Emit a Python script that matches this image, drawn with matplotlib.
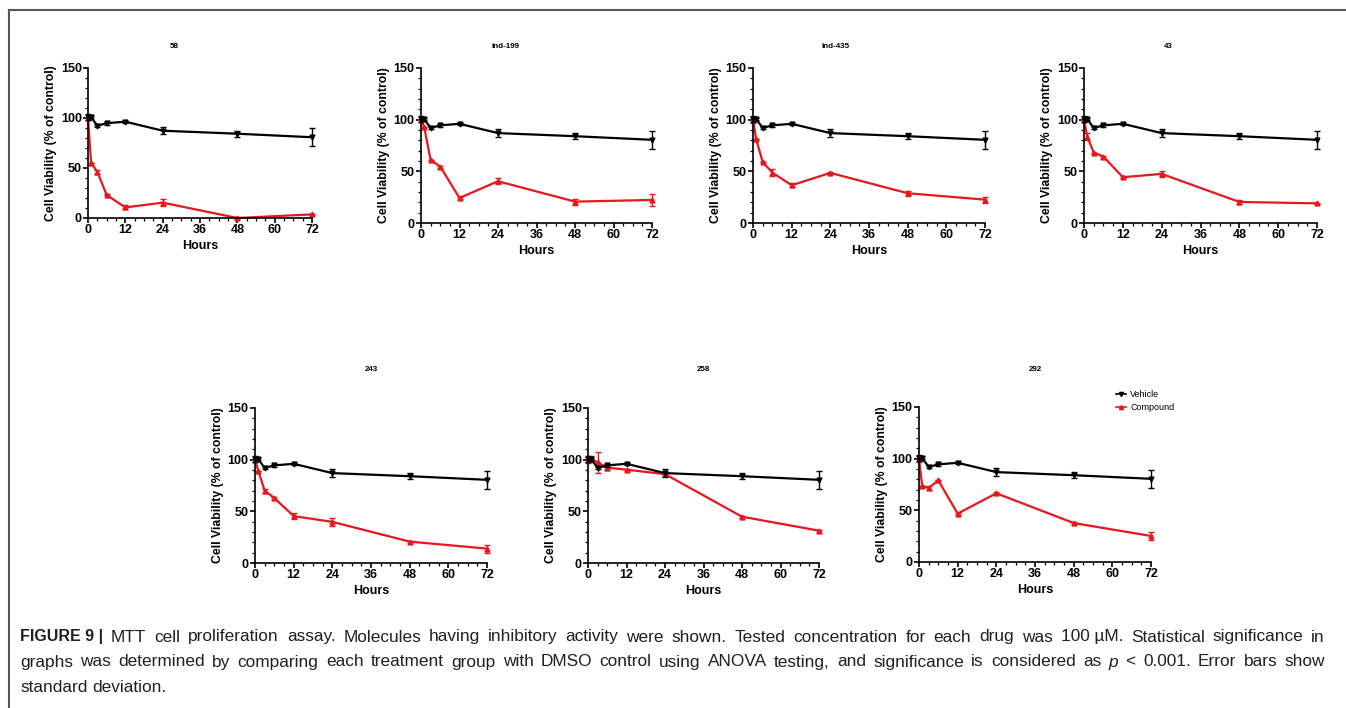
import numpy as np
import matplotlib.pyplot as plt
from matplotlib.lines import Line2D
from matplotlib.ticker import MultipleLocator

plt.rcParams['font.family'] = ['Liberation Sans', 'DejaVu Sans']
plt.rcParams['font.weight'] = 'bold'
plt.rcParams['axes.labelweight'] = 'bold'

# Data
hours = [0, 1, 3, 6, 12, 24, 48, 72]
vehicle = [100.5, 100.5, 92, 94.5, 96, 87, 84, 80.5]
vehicle_sd = [3, 1, 1, 1.5, 1, 3.5, 3, 9]

titles = ["58", "ind-199", "ind-435", "43", "243", "258", "292"]
compound = {
    "58":      [100, 55, 46, 23, 10.5, 15.3, 0, 3.6],
    "ind-199": [100, 92.8, 61, 54.6, 24.2, 40.4, 20.7, 22.3],
    "ind-435": [100, 81, 59, 48.8, 36.5, 48.5, 28.8, 22.6],
    "43":      [100, 83.7, 68.2, 64.3, 44.3, 47.5, 20.4, 19],
    "243":     [100, 89.4, 70, 62.8, 45.4, 39.8, 20.7, 13.9],
    "258":     [99.4, 100.6, 97.4, 92.3, 90.3, 86, 44.8, 31.3],
    "292":     [100, 73.5, 71.6, 79, 46.8, 66.5, 37.7, 25.2],
}
compound_sd = {
    "58":      [0, 0, 2, 0.5, 2, 3.5, 0.5, 0.5],
    "ind-199": [0, 0, 0, 1, 1, 3, 3, 6],
    "ind-435": [3, 0, 0, 3, 2, 0.5, 2.5, 3],
    "43":      [0, 3, 0, 1, 1, 3, 2, 0.5],
    "243":     [0, 0, 2, 1, 3, 4, 1, 4],
    "258":     [3, 3, 10.5, 2, 1, 1, 1, 1],
    "292":     [3, 0, 1.5, 0, 1, 1, 1, 4],
}

W, H = 1346, 708
# panel boxes in pixels: left, right, top, bottom ; title position
boxes = [
    (88, 312, 67.5, 218, 174, 46),
    (421, 652, 68, 223, 505, 46),
    (753, 985, 68, 223, 836, 46),
    (1084, 1317, 68, 223, 1168, 46),
    (255, 487, 408, 563, 371, 369),
    (588, 819, 408, 563, 703, 369),
    (919, 1151, 407, 562, 1035, 369),
]

fig = plt.figure(figsize=(W / 100, H / 100), dpi=100)

red = '#e8161d'
for name, (l, r, t, b, tx, ty) in zip(titles, boxes):
    ax = fig.add_axes([l / W, 1 - b / H, (r - l) / W, (b - t) / H])
    ax.errorbar(hours, vehicle, yerr=vehicle_sd, color='black', marker='v', ms=3.5,
                lw=1.6, capsize=2.5, elinewidth=1, capthick=1, clip_on=False, zorder=3)
    ax.errorbar(hours, compound[name], yerr=compound_sd[name], color=red, marker='^', ms=3.5,
                lw=1.6, capsize=2.5, elinewidth=1, capthick=1, clip_on=False, zorder=2)
    ax.set_xlim(0, 72)
    ax.set_ylim(0, 150)
    ax.xaxis.set_major_locator(MultipleLocator(12))
    ax.xaxis.set_minor_locator(MultipleLocator(3))
    ax.yaxis.set_major_locator(MultipleLocator(50))
    ax.yaxis.set_minor_locator(MultipleLocator(10))
    for s in ['top', 'right']:
        ax.spines[s].set_visible(False)
    for s in ['left', 'bottom']:
        ax.spines[s].set_linewidth(1.2)
    ax.tick_params(which='major', length=3.5, width=1.2, labelsize=9, pad=1)
    ax.tick_params(which='minor', length=2, width=0.9)
    for lbl in ax.get_xticklabels() + ax.get_yticklabels():
        lbl.set_fontweight('bold')
    ax.set_xlabel('Hours', fontsize=9, fontweight='bold', labelpad=3)
    ax.set_ylabel('Cell Viability (% of control)', fontsize=8.8, fontweight='bold', labelpad=3)
    fig.text(tx / W, 1 - ty / H, name, fontsize=5.8, fontweight='bold', ha='center', va='center')
    if name == "292":
        handles = [Line2D([], [], color='black', marker='v', ms=3, lw=1.2),
                   Line2D([], [], color=red, marker='^', ms=3, lw=1.2)]
        fig.legend(handles, ['Vehicle', 'Compound'], loc='upper left',
                   bbox_to_anchor=(1116 / W, 1 - 390 / H), frameon=False,
                   prop={'size': 6.5, 'weight': 'normal'}, handlelength=1.1,
                   handletextpad=0.5, labelspacing=0.45, borderaxespad=0, borderpad=0)

# frame lines
fig.add_artist(Line2D([9 / W, 1], [1 - 10 / H, 1 - 10 / H], color='#555555', lw=1.5))
fig.add_artist(Line2D([9 / W, 9 / W], [0, 1 - 10 / H], color='#555555', lw=1.5))

# caption, justified by hand
renderer = fig.canvas.get_renderer()
cap_color = '#231f20'
cap_size = 11.5
body_size = 12.4
x0, x1 = 20, 1325
lines = [
    ([("FIGURE 9 |", 'bold')] + [(w, 'normal') for w in
      "MTT cell proliferation assay. Molecules having inhibitory activity were shown. Tested concentration for each drug was".split()]
     + [("100 µM.", 'normal')] + [(w, 'normal') for w in "Statistical significance in".split()], 637, True),
    ([(w, 'normal') for w in
      "graphs was determined by comparing each treatment group with DMSO control using ANOVA testing, and significance is considered as".split()]
     + [("p", 'italic'), ("<", 'normal'), ("0.001.", 'normal')]
     + [(w, 'normal') for w in "Error bars show".split()], 662, True),
    ([(w, 'normal') for w in "standard deviation.".split()], 687, False),
]
for words, y, justify in lines:
    texts = []
    for w, wt in words:
        if wt == 'bold':
            t = fig.text(0, 1 - y / H, w, fontsize=cap_size, fontweight='bold',
                         color=cap_color, va='center')
        else:
            t = fig.text(0, 1 - y / H, w, fontsize=body_size, fontweight='normal',
                         fontstyle='italic' if wt == 'italic' else 'normal',
                         color=cap_color, va='center')
        texts.append(t)
    widths = [t.get_window_extent(renderer).width for t in texts]
    if justify:
        gap = (x1 - x0 - sum(widths)) / (len(texts) - 1)
    else:
        gap = body_size * 100 / 72 * 0.28
    x = x0
    for t, wd in zip(texts, widths):
        t.set_x(x / W)
        x += wd + gap

fig.savefig('out.png', dpi=100)
